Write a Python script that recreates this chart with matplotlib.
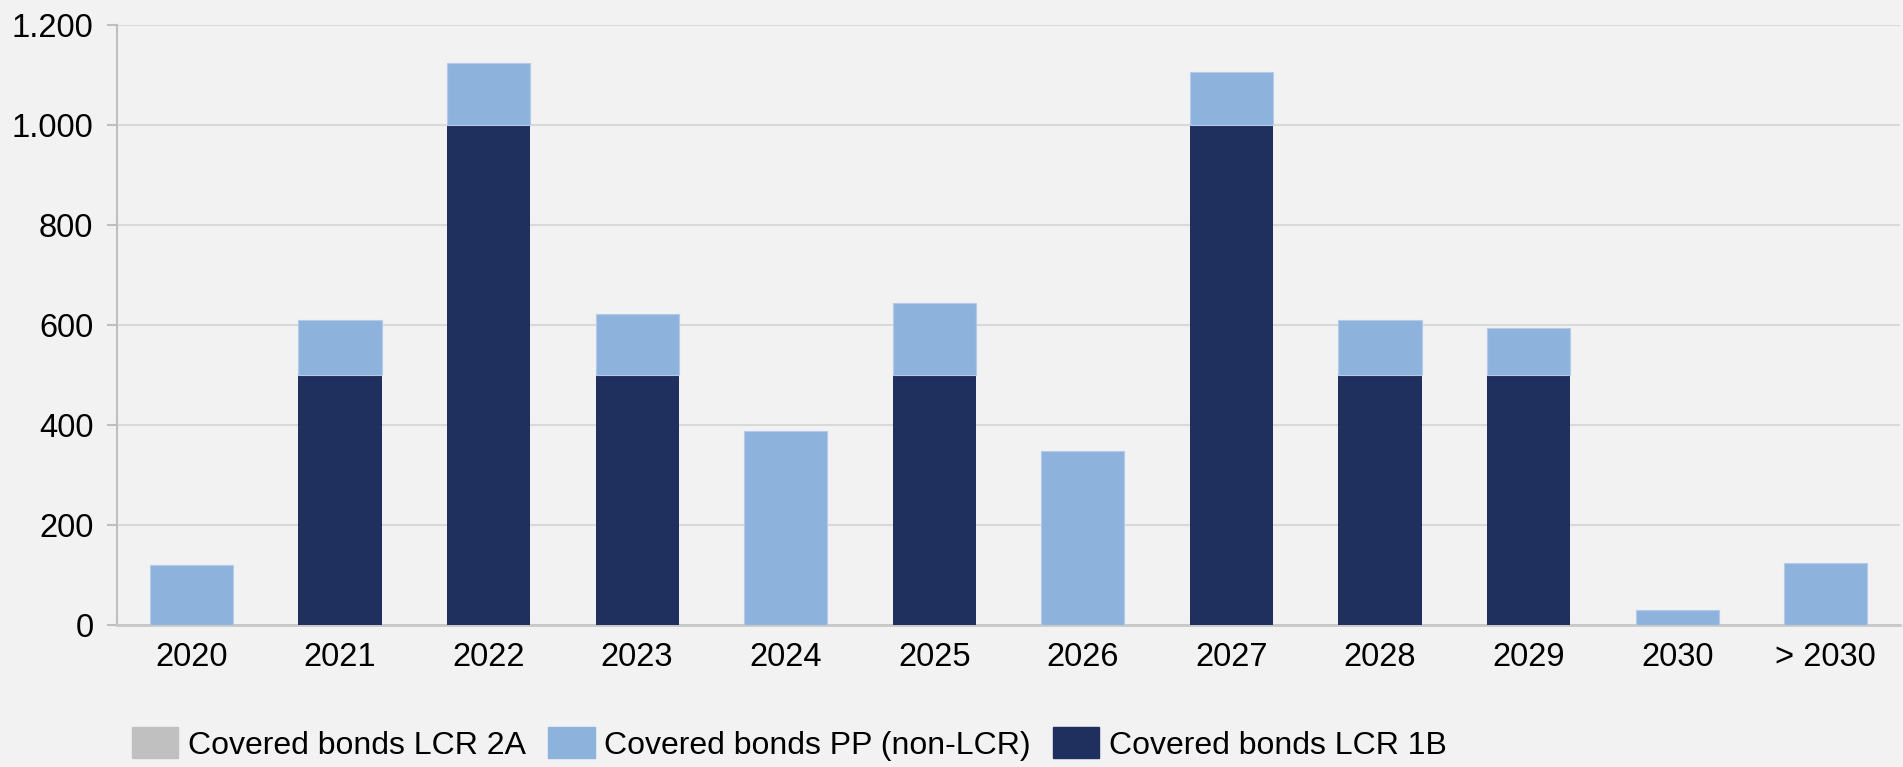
import matplotlib
matplotlib.use("Agg")
import matplotlib.pyplot as plt
import numpy as np

plt.rcParams['font.family'] = ['Liberation Sans', 'DejaVu Sans']

# data
years = ["2020", "2021", "2022", "2023", "2024", "2025", "2026", "2027", "2028", "2029", "2030", "> 2030"]
lcr_2a = [0, 0, 0, 0, 0, 0, 0, 0, 0, 0, 0, 0]
lcr_1b = [0, 500, 1000, 500, 0, 500, 0, 1000, 500, 500, 0, 0]
pp_non_lcr = [120, 111, 125, 123, 389, 145, 348, 106, 111, 95, 30, 124]
y_ticks = [0, 200, 400, 600, 800, 1000, 1200]
y_tick_labels = ["0", "200", "400", "600", "800", "1.000", "1.200"]
series_names = ["Covered bonds LCR 2A", "Covered bonds PP (non-LCR)", "Covered bonds LCR 1B"]

bg = "#f2f2f2"
c_2a = "#c0c0c0"
c_pp = "#8db3dd"
c_1b = "#1f305e"
fs = 23.5

fig = plt.figure(figsize=(19.03, 7.67), dpi=100, facecolor=bg)
ax = fig.add_axes([0.0615, 0.185, 0.937, 0.782])
ax.set_facecolor(bg)

x = np.arange(len(years))
w = 0.56
lcr_1b = np.array(lcr_1b)
lcr_2a = np.array(lcr_2a)
pp_non_lcr = np.array(pp_non_lcr)

ax.bar(x, lcr_1b, w, color=c_1b, zorder=3)
ax.bar(x, pp_non_lcr, w, bottom=lcr_1b, color=c_pp, edgecolor="#b3cbe8", linewidth=0.8, zorder=3)
ax.bar(x, lcr_2a, w, bottom=lcr_1b + pp_non_lcr, color=c_2a, zorder=3)

ax.set_xlim(-0.5, len(years) - 0.5)
ax.set_ylim(0, 1200)
ax.set_yticks(y_ticks)
ax.set_yticklabels(y_tick_labels)
ax.set_xticks(x)
ax.set_xticklabels(years)
ax.grid(axis="y", color="#d9d9d9", linewidth=1.5, zorder=0)

for s in ["top", "right"]:
    ax.spines[s].set_visible(False)
ax.spines["left"].set_color("#bfbfbf")
ax.spines["bottom"].set_color("#c8c8c8")
ax.spines["left"].set_linewidth(1.5)
ax.spines["bottom"].set_linewidth(2)

ax.tick_params(axis="y", length=7, width=1.5, color="#bfbfbf", labelsize=fs, pad=10)
ax.tick_params(axis="x", length=0, labelsize=fs, pad=12)

handles = [
    plt.Rectangle((0, 0), 1, 1, color=c_2a),
    plt.Rectangle((0, 0), 1, 1, color=c_pp),
    plt.Rectangle((0, 0), 1, 1, color=c_1b),
]
fig.legend(handles, series_names, loc="lower left", bbox_to_anchor=(0.066, 0.0),
           ncol=3, frameon=False, fontsize=fs - 0.5, handlelength=1.45, handleheight=1.1,
           handletextpad=0.3, columnspacing=0.7, borderpad=0.1, borderaxespad=0.1)

fig.savefig("out.png", dpi=100, facecolor=bg)
